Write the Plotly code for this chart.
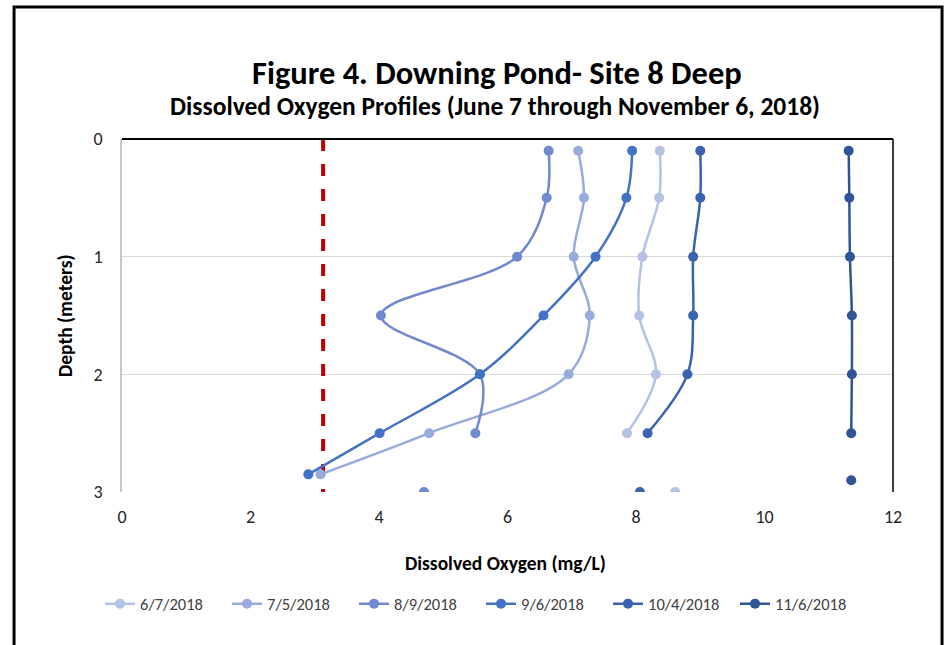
import plotly.graph_objects as go

# Depths (meters) shared by all profiles; None = no reading at that depth
depths = [0.1, 0.5, 1.0, 1.5, 2.0, 2.5, 2.85, 2.9, 3.0]

do_0607 = [8.37, 8.36, 8.10, 8.05, 8.31, 7.86, None, None, 8.61]
do_0705 = [7.10, 7.19, 7.03, 7.28, 6.95, 4.78, 3.09, None, None]
do_0809 = [6.64, 6.61, 6.15, 4.03, 5.57, 5.50, None, None, 4.70]
do_0906 = [7.94, 7.85, 7.37, 6.56, 5.57, 4.01, 2.90, None, None]
do_1004 = [9.00, 9.00, 8.89, 8.89, 8.80, 8.18, None, None, 8.06]
do_1106 = [11.31, 11.32, 11.33, 11.36, 11.36, 11.35, None, 11.35, None]

series_names = ["6/7/2018", "7/5/2018", "8/9/2018", "9/6/2018", "10/4/2018", "11/6/2018"]
series_values = [do_0607, do_0705, do_0809, do_0906, do_1004, do_1106]
series_colors = ["#b4c2e6", "#98abdc", "#7189cf", "#4472c4", "#3a62b0", "#2f5597"]

threshold_do = 3.13
threshold_depth = [0, 3]

x_ticks = [0, 2, 4, 6, 8, 10, 12]
y_ticks = [0, 1, 2, 3]

FONT = "Carlito, Calibri, Lato, sans-serif"

fig = go.Figure()

fig.add_trace(go.Scatter(
    x=[threshold_do, threshold_do], y=threshold_depth, mode="lines",
    line=dict(color="#c00000", width=4, dash="12px,13px"),
    showlegend=False, hoverinfo="skip"))

for name, vals, col in zip(series_names, series_values, series_colors):
    fig.add_trace(go.Scatter(
        x=vals, y=depths, name=name, mode="lines+markers",
        line=dict(color=col, width=2.5, shape="spline", smoothing=1),
        marker=dict(color=col, size=10),
        connectgaps=False))

fig.update_layout(
    width=944, height=645,
    margin=dict(l=122, r=51, t=139, b=153),
    paper_bgcolor="white", plot_bgcolor="white",
    font=dict(family=FONT, color="#262626"),
    showlegend=True,
    legend=dict(orientation="h", x=-0.0285, xanchor="left", y=-0.317, yanchor="middle",
                font=dict(size=16.5, color="#404040", family=FONT), itemwidth=30,
                entrywidth=82, entrywidthmode="pixels", tracegroupgap=0),
    xaxis=dict(range=[0, 12], tickvals=x_ticks, showgrid=False, zeroline=False,
               showline=False, ticks="", tickfont=dict(size=18, color="#262626"),
               ticklabelstandoff=12),
    yaxis=dict(range=[3, 0], tickvals=y_ticks, showgrid=True, gridcolor="#d9d9d9",
               gridwidth=1.3, zeroline=False, showline=True, linecolor="#c8c8c8",
               linewidth=1.5, ticks="", tickfont=dict(size=18, color="#262626"),
               ticklabelstandoff=14),
    shapes=[
        dict(type="line", xref="paper", yref="paper", x0=0, x1=1, y0=1, y1=1,
             line=dict(color="black", width=2)),
        dict(type="line", xref="paper", yref="paper", x0=1, x1=1, y0=0, y1=1,
             line=dict(color="black", width=1.5)),
        dict(type="rect", xref="paper", yref="paper", x0=-0.140, x1=1.0636,
             y0=-0.47, y1=1.374, line=dict(color="black", width=3)),
    ],
    annotations=[
        dict(text="<b>Figure 4. Downing Pond- Site 8 Deep</b>", xref="paper", yref="paper",
             x=0.486, y=1.187, showarrow=False, font=dict(size=32.5, color="black", family=FONT),
             xanchor="center", yanchor="middle"),
        dict(text="<b>Dissolved Oxygen Profiles (June 7 through November 6, 2018)</b>",
             xref="paper", yref="paper", x=0.484, y=1.091, showarrow=False,
             font=dict(size=25.5, color="black", family=FONT), xanchor="center", yanchor="middle"),
        dict(text="<b>Depth (meters)</b>", xref="paper", yref="paper", x=-0.074, y=0.501,
             showarrow=False, textangle=-90, font=dict(size=19.5, color="black", family=FONT),
             xanchor="center", yanchor="middle"),
        dict(text="<b>Dissolved Oxygen (mg/L)</b>", xref="paper", yref="paper", x=0.498,
             y=-0.201, showarrow=False, font=dict(size=19.5, color="black", family=FONT),
             xanchor="center", yanchor="middle"),
    ],
)

fig.write_html("out.html", config={"displayModeBar": False},
               post_script="document.body.style.margin='0';document.body.style.overflow='hidden';")
